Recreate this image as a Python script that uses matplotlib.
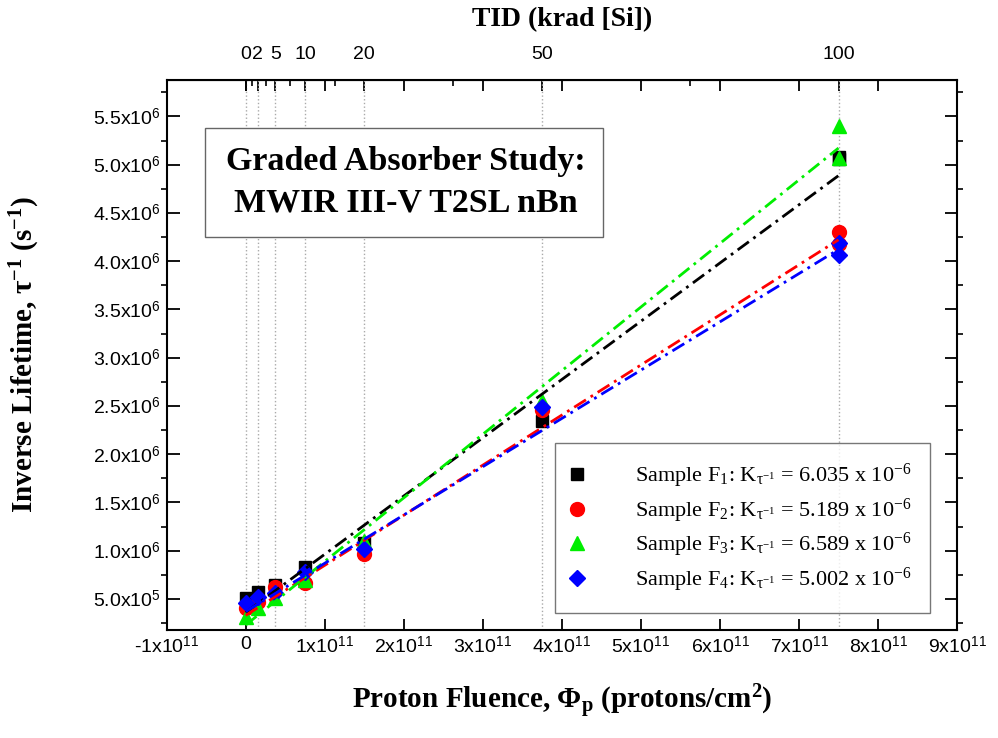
import numpy as np
import matplotlib.pyplot as plt
from matplotlib.patches import Rectangle
from matplotlib.ticker import FuncFormatter, MultipleLocator

plt.rcParams['font.family'] = ['Liberation Serif', 'DejaVu Serif']
plt.rcParams['mathtext.fontset'] = 'custom'
plt.rcParams['mathtext.rm'] = 'Liberation Serif'
plt.rcParams['mathtext.it'] = 'Liberation Serif:italic'
plt.rcParams['mathtext.bf'] = 'Liberation Serif:bold'
plt.rcParams['mathtext.sf'] = 'Liberation Sans'

# proton fluence (protons/cm^2); the 100 krad dose was measured twice
fluence = [0, 1.5e10, 3.75e10, 7.5e10, 1.5e11, 3.75e11, 7.5e11, 7.5e11]
f1 = [0.51e6, 0.57e6, 0.65e6, 0.83e6, 1.08e6, 2.34e6, 5.08e6, 5.06e6]
f2 = [0.41e6, 0.47e6, 0.62e6, 0.67e6, 0.97e6, 2.46e6, 4.30e6, 4.18e6]
f3 = [0.31e6, 0.41e6, 0.51e6, 0.70e6, 1.10e6, 2.55e6, 5.40e6, 5.07e6]
f4 = [0.46e6, 0.52e6, 0.56e6, 0.78e6, 1.02e6, 2.49e6, 4.19e6, 4.06e6]

# linear fits: slope K and intercept
k_vals = [6.035e-6, 5.189e-6, 6.589e-6, 5.002e-6]
k_text = ['6.035', '5.189', '6.589', '5.002']
intercepts = [0.36e6, 0.33e6, 0.23e6, 0.37e6]

tid_ticks = [0, 2, 5, 10, 20, 50, 100]
tid_minor = [1, 3.5, 7.5, 15, 35, 75]
krad_per_fluence = 100 / 7.5e11

colors = ['black', '#ff0000', '#00ee00', '#0000ff']
markers = ['s', 'o', '^', 'D']
msizes = [9, 10, 10, 8]
series = [f1, f2, f3, f4]

fig = plt.figure(figsize=(9.98, 7.38), dpi=100)
ax = fig.add_axes([0.167, 0.146, 0.792, 0.746])

# dotted guides at the TID doses
for t in tid_ticks:
    ax.axvline(t / krad_per_fluence, color='#aaaaaa', ls=':', lw=1, zorder=1)

handles = []
for i in range(4):
    h, = ax.plot(fluence, series[i], ls='none', marker=markers[i], ms=msizes[i],
                 color=colors[i], zorder=3,
                 label=r'Sample F$_{%d}$: K$_{\mathrm{\tau^{-1}}}$ = %s x 10$^{-6}$' % (i + 1, k_text[i]))
    handles.append(h)

xfit = np.array([0, max(fluence)])
for i in range(4):
    ax.plot(xfit, k_vals[i] * xfit + intercepts[i], color=colors[i], lw=2,
            dashes=(5, 2, 1, 2), zorder=4)

ax.set_xlim(-1e11, 9e11)
ax.set_ylim(1.76e5, 5.88e6)


def xfmt(v, pos):
    if abs(v) < 1:
        return '0'
    return r'%dx10$^{\mathsf{11}}$' % round(v / 1e11)


def yfmt(v, pos):
    if v < 1e6:
        return r'%.1fx10$^{\mathsf{5}}$' % (v / 1e5)
    return r'%.1fx10$^{\mathsf{6}}$' % (v / 1e6)


ax.xaxis.set_major_locator(MultipleLocator(1e11))
ax.xaxis.set_major_formatter(FuncFormatter(xfmt))
ax.yaxis.set_major_locator(MultipleLocator(5e5))
ax.yaxis.set_minor_locator(MultipleLocator(2.5e5))
ax.yaxis.set_major_formatter(FuncFormatter(yfmt))

ax.tick_params(axis='x', which='major', direction='in', top=True, bottom=True,
               length=8, width=1.3, labelsize=14, pad=4)
ax.tick_params(axis='y', which='major', direction='in', left=True, right=True,
               length=9, width=1.3, labelsize=14, pad=4)
ax.tick_params(axis='y', which='minor', direction='out', left=True, right=True,
               length=4, width=1.2)
for lab in ax.get_xticklabels() + ax.get_yticklabels():
    lab.set_family('Liberation Sans')
for s in ax.spines.values():
    s.set_linewidth(1.5)

ax.set_xlabel(r'Proton Fluence, $\mathbf{\Phi_p}$ (protons/cm$^{\mathbf{2}}$)',
              fontsize=21, fontweight='bold')
ax.set_ylabel(r'Inverse Lifetime, $\mathbf{\tau^{-1}}$ (s$^{\mathbf{-1}}$)',
              fontsize=21, fontweight='bold')
ax.xaxis.set_label_coords(0.5, -0.095)
ax.yaxis.set_label_coords(-0.158, 0.5)

secax = ax.secondary_xaxis('top', functions=(lambda x: x * krad_per_fluence,
                                             lambda t: t / krad_per_fluence))
secax.set_xticks(tid_ticks)
secax.set_xticks(tid_minor, minor=True)
secax.set_xticklabels([str(t) for t in tid_ticks], family='Liberation Sans')
secax.tick_params(which='major', direction='in', length=8, width=1.3,
                  labelsize=14, pad=12)
secax.tick_params(which='minor', direction='in', length=4, width=1.2)
secax.set_xlabel('TID (krad [Si])', fontsize=20, fontweight='bold', labelpad=14)

# title box
ax.add_patch(Rectangle((0.048, 0.7145), 0.504, 0.1985, transform=ax.transAxes,
                       fill=True, facecolor='white', edgecolor='#666666', lw=1, zorder=5))
ax.text(0.302, 0.814, 'Graded Absorber Study:\nMWIR III-V T2SL nBn',
        transform=ax.transAxes, ha='center', va='center', fontsize=24.5,
        fontweight='bold', linespacing=1.45, zorder=6)

leg = ax.legend(handles=handles, loc='lower right', bbox_to_anchor=(0.966, 0.031),
                fontsize=16, frameon=True, fancybox=False, edgecolor='#555555',
                handletextpad=2.45, labelspacing=0.3, borderpad=0.85,
                handlelength=0.3, borderaxespad=0)
leg.get_frame().set_linewidth(1)

fig.savefig('out.png', dpi=100)
